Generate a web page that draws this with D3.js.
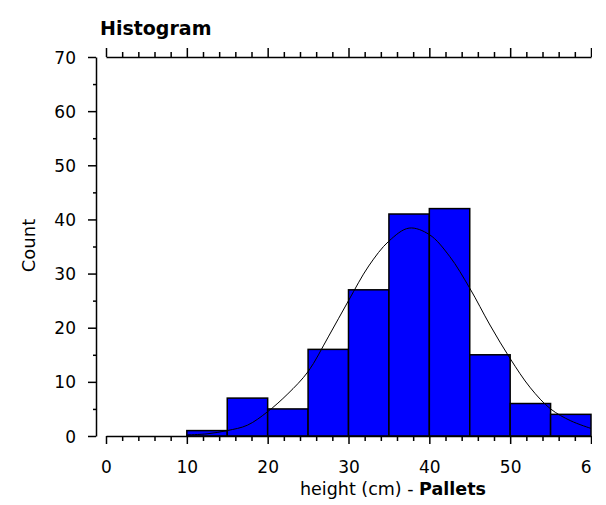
<!DOCTYPE html>
<html>
<head>
<meta charset="utf-8">
<script src="https://cdn.jsdelivr.net/npm/d3@7"></script>
<style>
  html, body { margin: 0; padding: 0; background: #fff; }
  svg { display: block; overflow: hidden; }
</style>
</head>
<body>
<div id="chart"></div>
<script>
// ---- data ----
const title = "Histogram";
const yLabel = "Count";
const xLabelMain = "height (cm) - ";
const xLabelBold = "Pallets";

const binStarts = [10, 15, 20, 25, 30, 35, 40, 45, 50, 55];
const binWidth = 5;
const counts = [1, 7, 5, 16, 27, 41, 42, 15, 6, 4];

// fitted normal curve
const curveX = [10, 12.5, 15, 17.5, 20, 22.5, 25, 27.5, 30, 32.5, 35, 37.5, 40, 42.5, 45, 47.5, 50, 52.5, 55, 57.5, 60];
const curveY = [0.2, 0.4, 1.0, 2.0, 4.5, 7.8, 11.9, 18.3, 25.0, 31.4, 36.0, 38.4, 37.2, 33.2, 27.3, 20.5, 14.3, 8.9, 5.0, 2.8, 1.4];

const xTicks = [0, 10, 20, 30, 40, 50, 60];
const xMinorTicks = [2, 4, 6, 8, 12, 14, 16, 18, 22, 24, 26, 28, 32, 34, 36, 38, 42, 44, 46, 48, 52, 54, 56, 58];
const yTicks = [0, 10, 20, 30, 40, 50, 60, 70];
const yMinorTicks = [5, 15, 25, 35, 45, 55, 65];

// ---- layout ----
const W = 592, H = 505;
const svg = d3.select("#chart").append("svg")
  .attr("width", W).attr("height", H);

const x = d3.scaleLinear().domain([0, 60]).range([106, 591]);
const y = d3.scaleLinear().domain([0, 70]).range([436, 57]);

const font = "'DejaVu Sans', sans-serif";

// title
svg.append("text")
  .attr("x", 100).attr("y", 35)
  .attr("font-family", font).attr("font-weight", "bold")
  .attr("font-size", 19).attr("fill", "#000")
  .text(title);

// bars
svg.append("g").selectAll("rect")
  .data(counts)
  .join("rect")
  .attr("x", (d, i) => x(binStarts[i]))
  .attr("width", (d, i) => x(binStarts[i] + binWidth) - x(binStarts[i]))
  .attr("y", d => y(d))
  .attr("height", d => y(0) - y(d))
  .attr("fill", "#0000ff")
  .attr("stroke", "#000")
  .attr("stroke-width", 1.5);

// normal curve
const pts = curveX.map((v, i) => [v, curveY[i]]);
svg.append("path")
  .datum(pts)
  .attr("d", d3.line().x(d => x(d[0])).y(d => y(d[1])).curve(d3.curveCatmullRom))
  .attr("fill", "none")
  .attr("stroke", "#000")
  .attr("stroke-width", 1);

function styleAxis(g) {
  g.selectAll("path, line").attr("stroke", "#000").attr("stroke-width", 1.5);
  g.selectAll("text").attr("font-family", font).attr("font-size", 17).attr("fill", "#000");
}

// y axis (offset line at x=96)
const yAxisG = svg.append("g").attr("transform", "translate(96,0)")
  .call(d3.axisLeft(y).tickValues(yTicks).tickSize(8).tickSizeOuter(0).tickPadding(12))
  .call(styleAxis);
yAxisG.selectAll("text").attr("dy", "0.36em");
svg.append("g").attr("transform", "translate(96,0)")
  .call(d3.axisLeft(y).tickValues(yMinorTicks).tickSize(3).tickSizeOuter(0).tickFormat(""))
  .call(styleAxis)
  .select(".domain").remove();

// x axis bottom
const xAxisG = svg.append("g").attr("transform", `translate(0,${y(0)})`)
  .call(d3.axisBottom(x).tickValues(xTicks).tickSize(8).tickSizeOuter(0))
  .call(styleAxis);
xAxisG.selectAll("text").attr("y", 37).attr("dy", 0);
svg.append("g").attr("transform", `translate(0,${y(0)})`)
  .call(d3.axisBottom(x).tickValues(xMinorTicks).tickSize(5).tickSizeOuter(0).tickFormat(""))
  .call(styleAxis)
  .select(".domain").remove();

// x axis top (mirror, no labels)
svg.append("g").attr("transform", `translate(0,${y(70)})`)
  .call(d3.axisTop(x).tickValues(xTicks).tickSize(9).tickSizeOuter(0).tickFormat(""))
  .call(styleAxis);
svg.append("g").attr("transform", `translate(0,${y(70)})`)
  .call(d3.axisTop(x).tickValues(xMinorTicks).tickSize(5).tickSizeOuter(0).tickFormat(""))
  .call(styleAxis)
  .select(".domain").remove();

// y label
svg.append("text")
  .attr("transform", "translate(35,245.5) rotate(-90)")
  .attr("text-anchor", "middle")
  .attr("font-family", font).attr("font-size", 18).attr("fill", "#000")
  .text(yLabel);

// x label
const xl = svg.append("text")
  .attr("x", 300).attr("y", 495)
  .attr("font-family", font).attr("font-size", 17.5).attr("fill", "#000");
xl.append("tspan").text(xLabelMain);
xl.append("tspan").attr("font-weight", "bold").text(xLabelBold);
</script>
</body>
</html>
